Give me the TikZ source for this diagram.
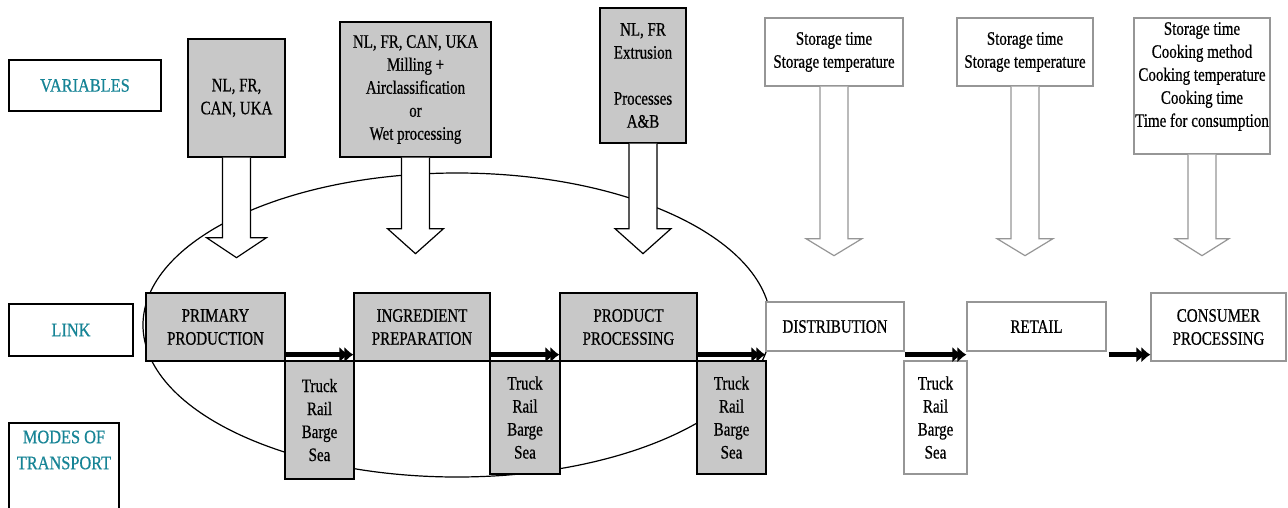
\documentclass[tikz,border=0pt]{standalone}
\usepackage{fontspec}
\setmainfont{Liberation Serif}[FakeStretch=0.79,FakeBold=0.6]
\newfontfamily\labfont{Liberation Serif}[FakeStretch=0.86,FakeBold=0.6]
\usetikzlibrary{arrows.meta,calc}
\definecolor{boxgray}{RGB}{200,200,200}
\definecolor{lightline}{RGB}{150,150,150}
\definecolor{tealtext}{RGB}{22,132,150}
\newcommand\blkarr[5]{%
  \draw[line width=1.2pt, draw=#5, fill=white, line join=miter]
    ($(#1.south)+(-14,0)$) -- ++(0,#2) -- ++(-#4+14,0) -- ++(#4,#3)
    -- ++(#4,-#3) -- ++(-#4+14,0) -- ++(0,-#2);}
\begin{document}
\begin{tikzpicture}[x=1pt,y=-1pt,
  txt/.style={font=\fontsize{19}{23}\selectfont, align=center, inner sep=0pt},
  graybox/.style={txt, draw=black, line width=1.3pt, fill=boxgray},
  whitebox/.style={txt, draw=lightline, line width=1.3pt, fill=white},
  labbox/.style={draw=black, line width=1.3pt, fill=white, inner sep=0pt, align=center,
    font=\labfont\fontsize{19}{26}\selectfont, text=tealtext},
  flow/.style={line width=5pt, -{Latex[length=9pt,width=16pt,sep=-4pt]Latex[length=9pt,width=16pt]}}]
\useasboundingbox (0,0) rectangle (1288,507);

% ellipse
\draw[line width=1.2pt] (457,325) ellipse [x radius=314, y radius=152];

% row labels
\node[labbox, minimum width=152, minimum height=51] (lvar) at (85,85.5) {VARIABLES};
\node[labbox, minimum width=124, minimum height=52] (llink) at (71,330) {LINK};
\node[labbox, minimum width=110, minimum height=87] (lmot) at (64,466.5) {};
\node[labbox, draw=none, fill=none] (lmottxt) at (64,450) {MODES OF\\TRANSPORT};

% variable boxes
\node[graybox, minimum width=97, minimum height=118] (v1) at (236.5,98) {NL, FR,\\CAN, UKA};
\node[graybox, minimum width=151, minimum height=135] (v2) at (415.5,89.5)
  {NL, FR, CAN, UKA\\Milling +\\Airclassification\\or\\Wet processing};
\node[graybox, minimum width=86, minimum height=135] (v3) at (643,75.5)
  {NL, FR\\Extrusion\\[23pt]Processes\\A\&B};
\node[whitebox, minimum width=138, minimum height=68] (v4) at (834,52)
  {Storage time\\Storage temperature};
\node[whitebox, minimum width=136, minimum height=68] (v5) at (1025,52)
  {Storage time\\Storage temperature};
\node[whitebox, minimum width=136, minimum height=136] (v6) at (1202,86)
  {Storage time\\Cooking method\\Cooking temperature\\Cooking time\\Time for consumption\\ {}};

% link boxes
\node[graybox, minimum width=139, minimum height=68] (pp) at (215.5,327) {PRIMARY\\PRODUCTION};
\node[graybox, minimum width=136, minimum height=68] (ip) at (422,327) {INGREDIENT\\PREPARATION};
\node[graybox, minimum width=137, minimum height=68] (prp) at (628.5,327) {PRODUCT\\PROCESSING};
\node[whitebox, minimum width=138, minimum height=49] (dist) at (835,326.5) {DISTRIBUTION};
\node[whitebox, minimum width=139, minimum height=49] (ret) at (1036.5,326.5) {RETAIL};
\node[whitebox, minimum width=135, minimum height=68] (cons) at (1218.5,327) {CONSUMER\\PROCESSING};

% transport boxes
\node[graybox, minimum width=69, minimum height=118] (t1) at (319.5,420) {Truck\\Rail\\Barge\\Sea};
\node[graybox, minimum width=70, minimum height=113] (t2) at (525,417.5) {Truck\\Rail\\Barge\\Sea};
\node[graybox, minimum width=69, minimum height=113] (t3) at (731.5,417.5) {Truck\\Rail\\Barge\\Sea};
\node[whitebox, minimum width=63, minimum height=113] (t4) at (935.5,417.5) {Truck\\Rail\\Barge\\Sea};

% block arrows
\blkarr{v1}{80}{20}{30}{black}
\blkarr{v2}{71}{25}{28}{black}
\blkarr{v3}{85}{25}{28}{black}
\blkarr{v4}{152}{17}{28}{lightline}
\blkarr{v5}{152}{17}{28}{lightline}
\blkarr{v6}{84}{17}{27}{lightline}

% flow arrows
\draw[flow] ($(pp.south east)+(0,-7)$) -- ($(ip.south west)+(0,-7)$);
\draw[flow] ($(ip.south east)+(0,-7)$) -- ($(prp.south west)+(0,-7)$);
\draw[flow] ($(prp.south east)+(0,-7)$) -- ($(dist.south west)+(0,3)$);
\draw[flow] ($(dist.south east)+(0,3)$) -- ($(ret.south west)+(0,3)$);
\draw[flow] ($(ret.south east)+(2,3)$) -- ($(cons.south west)+(0,-7)$);
\end{tikzpicture}
\end{document}
